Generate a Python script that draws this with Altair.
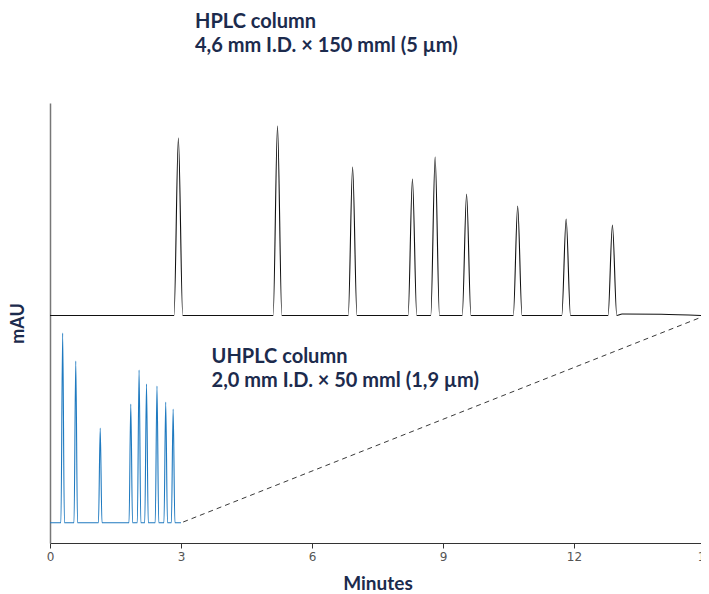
import altair as alt
import pandas as pd

# ---- data ----
hplc_times = [2.94, 5.21, 6.93, 8.30, 8.82, 9.54, 10.71, 11.82, 12.88]
hplc_tops = [405, 417, 376, 364, 386, 349, 337, 324, 318]
hplc_base = 227.5
hplc_halfwidth = 0.10
hplc_tail_t = [13.1, 14.0, 15.0]
hplc_tail_v = [229.0, 228.8, 227.3]

uhplc_times = [0.29, 0.59, 1.15, 1.85, 2.04, 2.21, 2.45, 2.65, 2.82]
uhplc_tops = [210, 182, 115, 139, 173, 159, 157, 141, 134]
uhplc_base = 20.3
uhplc_halfwidth = 0.04
uhplc_end = 3.0

dash_t = [3.05, 15.0]
dash_v = [21.0, 227.3]

x_ticks = [0, 3, 6, 9, 12, 15]

labels = [
    {"t": 3.32, "v": 515, "text": "HPLC column"},
    {"t": 3.32, "v": 491, "text": "4,6 mm I.D. × 150 mml (5 µm)"},
    {"t": 3.70, "v": 179.7, "text": "UHPLC column"},
    {"t": 3.70, "v": 156.3, "text": "2,0 mm I.D. × 50 mml (1,9 µm)"},
]


def build_trace(times, tops, base, hw, start, end_pts):
    rows = [(start, base)]
    for t, h in zip(times, tops):
        rows += [(t - hw, base), (t, h), (t + hw, base)]
    rows += end_pts
    return pd.DataFrame(rows, columns=["t", "v"])


hplc_df = build_trace(hplc_times, hplc_tops, hplc_base, hplc_halfwidth, 0.0,
                      list(zip(hplc_tail_t, hplc_tail_v)))
uhplc_df = build_trace(uhplc_times, uhplc_tops, uhplc_base, uhplc_halfwidth, 0.0,
                       [(uhplc_end, uhplc_base)])
hplc_df["o"] = range(len(hplc_df))
uhplc_df["o"] = range(len(uhplc_df))
dash_df = pd.DataFrame({"t": dash_t, "v": dash_v})
label_df = pd.DataFrame(labels)

# the plot area runs to the window's right edge; the last few px fall outside
xscale = alt.Scale(domain=[0, 15], nice=False, zero=False, range=[0, 655])
yscale = alt.Scale(domain=[0, 440], nice=False, zero=False)

TITLE_FONT = "Lato, sans-serif"
NAVY = "#1c2b4d"

X = alt.X("t:Q", scale=xscale, title="Minutes", axis=alt.Axis(
    values=x_ticks, grid=False, tickSize=5,
    domainColor="#333333", tickColor="#333333", labelColor="#555555",
    labelFont="DejaVu Sans", labelFontSize=12, labelPadding=3,
    titleFont=TITLE_FONT, titleFontSize=19, titleFontWeight="bold",
    titleColor=NAVY, titlePadding=12, labelFlush=False))
Y = alt.Y("v:Q", scale=yscale, title="mAU", axis=alt.Axis(
    labels=False, ticks=False, grid=False,
    domainColor="#777777", domainWidth=1.5,
    titleFont=TITLE_FONT, titleFontSize=18, titleFontWeight="bold",
    titleColor=NAVY, titlePadding=23))

hplc = alt.Chart(hplc_df).mark_line(
    color="#111111", strokeWidth=1.1, interpolate="monotone").encode(
    x=X, y=Y, order="o:Q")

uhplc = alt.Chart(uhplc_df).mark_line(
    color="#1f7ac0", strokeWidth=1.1, interpolate="monotone").encode(
    x=X, y=Y, order="o:Q")

dash = alt.Chart(dash_df).mark_line(
    color="#222222", strokeWidth=0.9, strokeDash=[5, 4]).encode(x=X, y=Y)

text = alt.Chart(label_df).mark_text(
    align="left", baseline="alphabetic", font=TITLE_FONT, fontSize=20,
    fontWeight="bold", color=NAVY,
).encode(x=X, y=Y, text="text:N")

chart = alt.layer(hplc, uhplc, dash, text).properties(
    width=651, height=440,
    autosize=alt.AutoSizeParams(type="none"),
    padding={"left": 42, "top": 95, "right": 0, "bottom": 60},
).configure_view(stroke=None)

chart.save("out.html", embed_options={"renderer": "svg", "actions": False})
